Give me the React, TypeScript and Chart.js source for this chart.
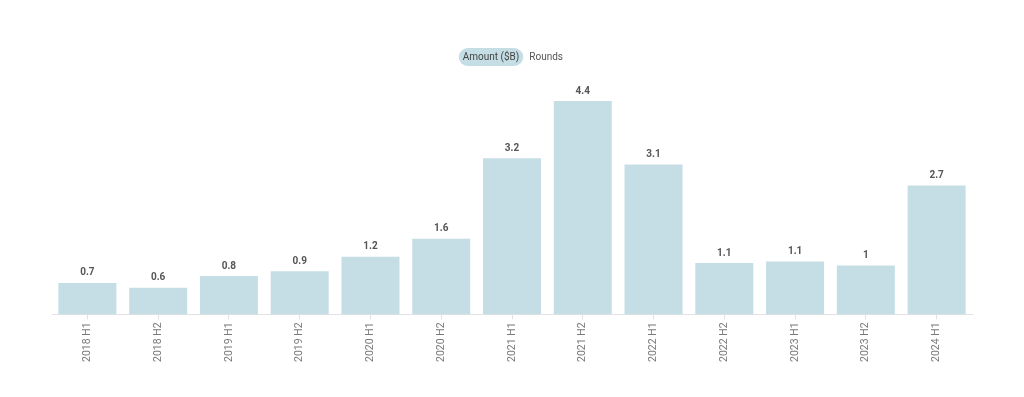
import React, { useEffect, useRef } from "react";
import { Chart, registerables } from "chart.js";

Chart.register(...registerables);

const categories = [
  "2018 H1", "2018 H2", "2019 H1", "2019 H2", "2020 H1", "2020 H2", "2021 H1",
  "2021 H2", "2022 H1", "2022 H2", "2023 H1", "2023 H2", "2024 H1",
];
const amounts = [0.65, 0.55, 0.79, 0.89, 1.19, 1.56, 3.22, 4.4, 3.09, 1.06, 1.09, 1.01, 2.66];
const legendLabels = ["Amount ($B)", "Rounds"];

const BAR_COLOR = "#c5dee6";
const FONT = "Roboto, 'Noto Sans', sans-serif";

const fmt = (v: number) => String(Math.round(v * 10) / 10);

const valueLabels = {
  id: "valueLabels",
  afterDatasetsDraw(chart: any) {
    const ctx = chart.ctx;
    const meta = chart.getDatasetMeta(0);
    ctx.save();
    ctx.font = `bold 10px ${FONT}`;
    ctx.fillStyle = "#555555";
    ctx.textAlign = "center";
    ctx.textBaseline = "middle";
    meta.data.forEach((bar: any, i: number) => {
      ctx.fillText(fmt(amounts[i]), bar.x, bar.y - 10);
    });
    ctx.restore();
  },
};

const pillLegend = {
  id: "pillLegend",
  afterDraw(chart: any) {
    const ctx = chart.ctx;
    ctx.save();
    ctx.font = `10px ${FONT}`;
    const w0 = ctx.measureText(legendLabels[0]).width;
    const padX = 4;
    const gap = 6;
    const pillW = w0 + padX * 2;
    const pillCx = chart.width / 2 - 21;
    const x0 = pillCx - pillW / 2;
    const yc = 57;
    const h = 18;
    ctx.fillStyle = BAR_COLOR;
    ctx.beginPath();
    ctx.roundRect(x0, yc - h / 2, pillW, h, h / 2);
    ctx.fill();
    ctx.fillStyle = "#444444";
    ctx.textBaseline = "middle";
    ctx.textAlign = "left";
    ctx.fillText(legendLabels[0], x0 + padX, yc + 0.5);
    ctx.fillStyle = "#555555";
    ctx.fillText(legendLabels[1], x0 + pillW + gap, yc + 0.5);
    ctx.restore();
  },
};

export default function App() {
  const ref = useRef<HTMLCanvasElement | null>(null);
  useEffect(() => {
    if (!ref.current) return;
    const chart = new Chart(ref.current, {
      type: "bar",
      data: {
        labels: categories,
        datasets: [
          {
            label: legendLabels[0],
            data: amounts,
            backgroundColor: BAR_COLOR,
            borderWidth: 0,
            barPercentage: 0.82,
            categoryPercentage: 1,
          },
        ],
      },
      options: {
        animation: false,
        responsive: true,
        maintainAspectRatio: false,
        layout: { padding: { left: 52, right: 52, top: 72, bottom: 32 } },
        plugins: {
          legend: { display: false },
          tooltip: { enabled: false },
        },
        scales: {
          y: { display: false, min: 0, max: 5 },
          x: {
            border: { display: true, color: "#e2e2e2", dash: [2, 2] },
            grid: {
              display: true,
              offset: false,
              drawOnChartArea: false,
              drawTicks: true,
              tickLength: 5,
              color: "#e2e2e2",
            },
            ticks: {
              minRotation: 90,
              maxRotation: 90,
              color: "#7a7a7a",
              padding: 3,
              font: { family: FONT, size: 10.5 },
            },
          },
        },
      },
      plugins: [valueLabels, pillLegend],
    });
    return () => chart.destroy();
  }, []);
  return (
    <div style={{ position: "fixed", left: 0, top: 0, width: 1024, height: 397, background: "#fff" }}>
      <canvas ref={ref} />
    </div>
  );
}
